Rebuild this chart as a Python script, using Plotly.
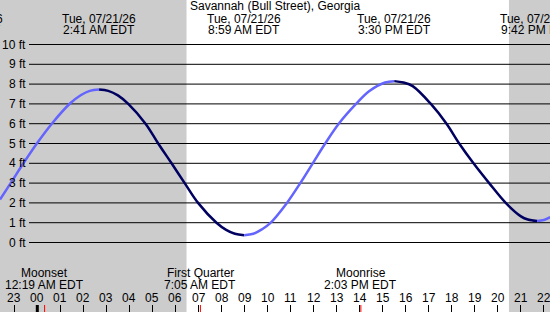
import plotly.graph_objects as go

# ---- data (hours after midnight 07/21/26, local EDT) ----
tide_hours = [-1.62, -1.1, -0.66, -0.02, 0.63, 1.42, 1.9, 2.28, 2.683, 3.08, 3.5, 3.95, 4.70,
              5.25, 5.83, 6.40, 6.98, 7.78, 8.2, 8.58, 8.983, 9.38, 9.75, 10.09, 10.84,
              11.42, 11.96, 12.5, 13.09, 13.84, 14.42, 15.1, 15.5, 15.9, 16.3,
              17.09, 17.77, 18.32, 18.94, 19.62, 20.34, 21.0, 21.3, 21.7, 22.0, 22.27]
tide_ft = [2.17, 3.1, 3.9, 5.0, 6.0, 7.02, 7.45, 7.66, 7.73, 7.66, 7.43, 7.0, 6.0,
           5.0, 4.0, 3.0, 2.0, 1.0, 0.64, 0.44, 0.37, 0.44, 0.66, 0.95, 2.0,
           3.0, 4.0, 5.0, 6.0, 7.0, 7.65, 8.08, 8.15, 8.08, 7.9,
           7.0, 6.0, 5.0, 4.0, 3.0, 2.0, 1.32, 1.16, 1.09, 1.14, 1.28]

extreme_hours = [-3.15, 2.683, 8.983, 15.5, 21.7]
extreme_dates = ["Mon, 07/20/26", "Tue, 07/21/26", "Tue, 07/21/26", "Tue, 07/21/26", "Tue, 07/21/26"]
extreme_times = ["8:51 PM EDT", "2:41 AM EDT", "8:59 AM EDT", "3:30 PM EDT", "9:42 PM EDT"]

moon_hours = [0.317, 7.083, 14.05]
moon_names = ["Moonset", "First Quarter", "Moonrise"]
moon_times = ["12:19 AM EDT", "7:05 AM EDT", "2:03 PM EDT"]

hour_ticks = list(range(-1, 23))
hour_labels = ["23", "00", "01", "02", "03", "04", "05", "06", "07", "08", "09", "10",
               "11", "12", "13", "14", "15", "16", "17", "18", "19", "20", "21", "22"]

ft_levels = list(range(0, 11))
sunrise_hour = 6.48
sunset_hour = 20.48

title_text = "Savannah (Bull Street), Georgia"

# ---- layout constants ----
W, H = 550, 312
X0 = -37.3 / 23.03
X1 = (W - 37.3) / 23.03
Y_TOP = 242.5 / 19.8
Y_BOT = -(H - 242.5) / 19.8
FONT = "Liberation Sans, Arial, sans-serif"
FS = 12
RISE = "#6464ff"
FALL = "#000060"


def py(pix):
    return 1 - pix / H


fig = go.Figure()

# tide curve split into rising / falling runs
seg_x, seg_y = [tide_hours[0]], [tide_ft[0]]
direction = None
for i in range(1, len(tide_hours)):
    d = tide_ft[i] > tide_ft[i - 1]
    if direction is not None and d != direction:
        fig.add_trace(go.Scatter(x=seg_x, y=seg_y, mode="lines", line_shape="spline",
                                 line=dict(color=RISE if direction else FALL, width=2.5),
                                 hoverinfo="skip", showlegend=False))
        seg_x, seg_y = [tide_hours[i - 1]], [tide_ft[i - 1]]
    direction = d
    seg_x.append(tide_hours[i])
    seg_y.append(tide_ft[i])
fig.add_trace(go.Scatter(x=seg_x, y=seg_y, mode="lines", line_shape="spline",
                         line=dict(color=RISE if direction else FALL, width=2.5),
                         hoverinfo="skip", showlegend=False))

shapes = []
# night shading
shapes.append(dict(type="rect", xref="x", yref="paper", x0=X0, x1=sunrise_hour, y0=0, y1=1,
                   fillcolor="#cccccc", line=dict(width=0), layer="below"))
shapes.append(dict(type="rect", xref="x", yref="paper", x0=sunset_hour, x1=X1, y0=0, y1=1,
                   fillcolor="#cccccc", line=dict(width=0), layer="below"))
# horizontal ft lines
for v in ft_levels:
    shapes.append(dict(type="line", xref="paper", yref="y", x0=29 / W, x1=1, y0=v, y1=v,
                       line=dict(color="black", width=1), layer="below"))
# midnight tick (thick)
shapes.append(dict(type="line", xref="x", yref="paper", x0=0, x1=0, y0=0, y1=7 / H,
                   line=dict(color="black", width=3)))
# moon event ticks
for h in moon_hours:
    shapes.append(dict(type="line", xref="x", yref="paper", x0=h, x1=h, y0=0, y1=7 / H,
                       line=dict(color="red", width=1)))

ann = []
common = dict(showarrow=False, borderpad=0, font=dict(family=FONT, size=FS, color="black"))
ann.append(dict(text=title_text, xref="paper", yref="paper", x=0.5, y=py(6),
                xanchor="center", yanchor="middle", **common))
for h, d, t in zip(extreme_hours, extreme_dates, extreme_times):
    xp = (h - X0) / (X1 - X0)
    ann.append(dict(text=d, xref="paper", yref="paper", x=xp, y=py(19),
                    xanchor="center", yanchor="middle", **common))
    ann.append(dict(text=t, xref="paper", yref="paper", x=xp, y=py(30.5),
                    xanchor="center", yanchor="middle", **common))
for h, n, t in zip(moon_hours, moon_names, moon_times):
    ann.append(dict(text=n, xref="x", yref="paper", x=h, y=py(273),
                    xanchor="center", yanchor="middle", **common))
    ann.append(dict(text=t, xref="x", yref="paper", x=h, y=py(285),
                    xanchor="center", yanchor="middle", **common))
for h, lab in zip(hour_ticks, hour_labels):
    ann.append(dict(text=lab, xref="x", yref="paper", x=h, y=py(297.5),
                    xanchor="center", yanchor="middle", **common))
for v in ft_levels:
    ann.append(dict(text=f"{v} ft", xref="paper", yref="y", x=27 / W, y=v,
                    xanchor="right", yanchor="middle", **common))

fig.update_layout(
    width=W, height=H,
    margin=dict(l=0, r=0, t=0, b=0, pad=0),
    paper_bgcolor="white", plot_bgcolor="white",
    shapes=shapes, annotations=ann, showlegend=False,
    xaxis=dict(range=[X0, X1], showgrid=False, zeroline=False, showline=False,
               ticks="inside", ticklen=7, tickwidth=1, tickcolor="black",
               tickmode="array", tickvals=hour_ticks, showticklabels=False, fixedrange=True),
    yaxis=dict(range=[Y_BOT, Y_TOP], showgrid=False, zeroline=False, showline=False,
               showticklabels=False, ticks="", fixedrange=True),
)

fig.write_html("out.html", config={"displayModeBar": False})
